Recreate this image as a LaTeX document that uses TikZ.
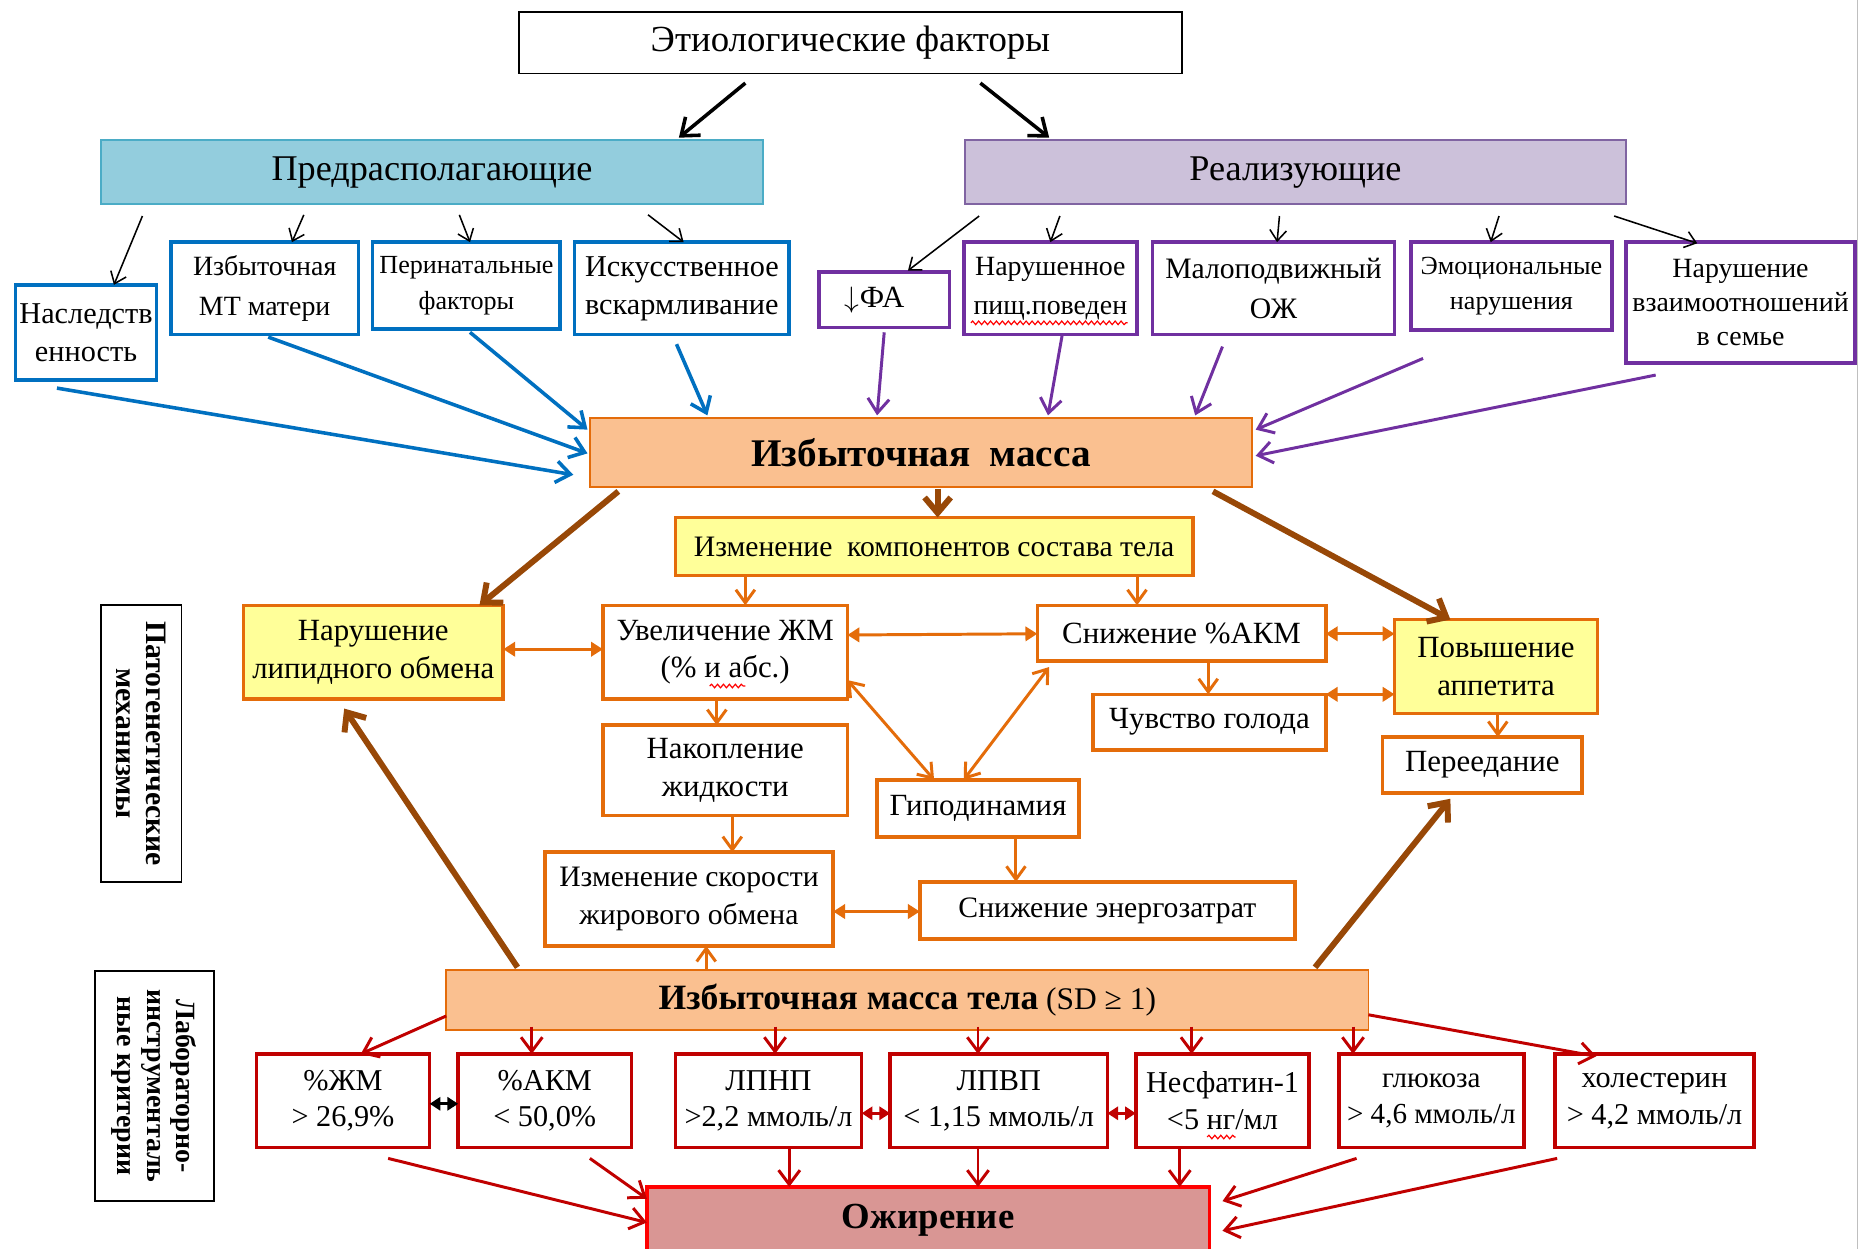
\documentclass[tikz,border=0pt]{standalone}
\usepackage{fontspec}
\setmainfont{Liberation Serif}
\usetikzlibrary{arrows.meta,decorations.pathmorphing}
\definecolor{cBlue}{HTML}{0070C0}
\definecolor{cPurple}{HTML}{7030A0}
\definecolor{cOrange}{HTML}{E46C0A}
\definecolor{cBrown}{HTML}{984807}
\definecolor{cRed}{HTML}{C00000}
\definecolor{cPeach}{HTML}{FAC090}
\definecolor{cYellow}{HTML}{FFFF99}
\definecolor{cLBlue}{HTML}{93CDDD}
\definecolor{cLBlueB}{HTML}{4BACC6}
\definecolor{cLav}{HTML}{CCC1DA}
\definecolor{cLavB}{HTML}{8064A2}
\definecolor{cPink}{HTML}{D99694}
\newcommand\fz[2]{\fontsize{#1}{#2}\selectfont}
\newcommand\lnk[5]{\draw[#1] ([shift={(#3)}]#2.center) -- ([shift={(#5)}]#4.center);}
\begin{document}
\begin{tikzpicture}[x=1pt,y=-1pt,
  box/.style={inner sep=0pt, align=center, font=\fz{26}{32}},
  bluebox/.style={box, draw=cBlue, line width=3, fill=white},
  purpbox/.style={box, draw=cPurple, line width=3, fill=white},
  orbox/.style={box, draw=cOrange, line width=3, fill=white},
  yelbox/.style={box, draw=cOrange, line width=3, fill=cYellow},
  redbox/.style={box, draw=cRed, line width=3, fill=white, font=\fz{25.5}{31}},
  sidebox/.style={box, draw=black, line width=1.5, rotate=-90},
  thinarr/.style={draw=black, line width=1.3, -{Straight Barb[length=9,width=14]}},
  blackarr/.style={draw=black, line width=3, -{Straight Barb[length=13,width=20]}},
  bluearr/.style={draw=cBlue, line width=3, -{Straight Barb[length=12,width=18]}},
  purparr/.style={draw=cPurple, line width=2.5, -{Straight Barb[length=12,width=18]}},
  brownarr/.style={draw=cBrown, line width=5, -{Straight Barb[length=13,width=22]}},
  orarr/.style={draw=cOrange, line width=2.5, -{Straight Barb[length=11,width=16]}},
  ordbl/.style={draw=cOrange, line width=2.5, {Straight Barb[length=11,width=16]}-{Straight Barb[length=11,width=16]}},
  ortri/.style={draw=cOrange, line width=2.5, {Triangle[length=10,width=12]}-{Triangle[length=10,width=12]}},
  redarr/.style={draw=cRed, line width=2.5, -{Straight Barb[length=12,width=18]}},
  redtri/.style={draw=cRed, line width=3, {Triangle[length=9,width=11]}-{Triangle[length=9,width=11]}},
  blktri/.style={draw=black, line width=2.5, {Triangle[length=9,width=11]}-{Triangle[length=9,width=11]}},
  wavy/.style={draw=red, line width=1, decorate, decoration={snake, amplitude=1.5, segment length=5}}
]
\useasboundingbox[fill=white] (0,0) rectangle (1568,1052);
\draw[gray!50, line width=1.5] (1565,0) -- (1565,1052);

% top
\node[box, draw=black, line width=1.5, minimum width=559, minimum height=52, font=\fz{31}{34}] (title) at (716.5,36) {Этиологические факторы};
\node[box, draw=cLBlueB, line width=1.5, fill=cLBlue, minimum width=558, minimum height=54, font=\fz{30.5}{34}] (pred) at (364,145) {Предрасполагающие};
\node[box, draw=cLavB, line width=1.5, fill=cLav, minimum width=557, minimum height=54, font=\fz{30.5}{34}] (real) at (1091.5,145) {Реализующие};

% blue row
\node[bluebox, minimum width=119, minimum height=80, font=\fz{25.5}{32}] (nasl) at (72.5,280) {Наследств\\енность};
\node[bluebox, minimum width=158, minimum height=78, font=\fz{23.5}{33}] (mt) at (223,243) {Избыточная\\МТ матери};
\node[bluebox, minimum width=158, minimum height=73, font=\fz{22}{30}] (peri) at (393,240.5) {Перинатальные\\факторы};
\node[bluebox, minimum width=181, minimum height=78, font=\fz{25.5}{32}] (isk) at (574.5,243) {Искусственное\\вскармливание};

% purple row
\node[purpbox, minimum width=110, minimum height=47] (fa) at (745,252.5) {{\fz{38}{38}$\downarrow$}ФА\hspace*{16pt}};
\node[purpbox, minimum width=146, minimum height=78, font=\fz{23.5}{33}] (pish) at (885,243) {Нарушенное\\пищ.поведен};
\node[purpbox, minimum width=204, minimum height=78, font=\fz{25}{33}] (oj) at (1073,243) {Малоподвижный\\ОЖ};
\node[purpbox, minimum width=169, minimum height=74, font=\fz{22}{30}] (emo) at (1273.5,241) {Эмоциональные\\нарушения};
\node[purpbox, minimum width=193, minimum height=102, font=\fz{23.5}{28.5}] (sem) at (1466.5,255) {Нарушение\\взаимоотношений\\в семье};

% central
\node[box, draw=cOrange, line width=1.5, fill=cPeach, minimum width=558, minimum height=58, font=\bfseries\fz{33}{36}] (izm) at (776,381) {Избыточная\hspace{8pt} масса};
\node[yelbox, minimum width=436, minimum height=49, font=\fz{25}{32}] (comp) at (787,460.5) {Изменение\hspace{6pt} компонентов состава тела};
\node[yelbox, minimum width=219, minimum height=79] (lip) at (314.5,549.5) {Нарушение\\липидного обмена};
\node[orbox, minimum width=206, minimum height=79] (uvel) at (611,549.5) {Увеличение ЖМ\\(\% и абс.)};
\node[orbox, minimum width=243, minimum height=47] (snakm) at (995.5,533.5) {Снижение \%АКМ};
\node[orbox, minimum width=196, minimum height=47] (chuv) at (1019,608.5) {Чувство голода};
\node[yelbox, minimum width=171, minimum height=79] (appet) at (1260.5,561.5) {Повышение\\аппетита};
\node[orbox, minimum width=206, minimum height=76] (nakop) at (611,649) {Накопление\\жидкости};
\node[orbox, minimum width=170, minimum height=48] (gipo) at (824,681) {Гиподинамия};
\node[orbox, minimum width=168, minimum height=47] (pere) at (1249,644.5) {Переедание};
\node[orbox, minimum width=243, minimum height=79, font=\fz{25}{32}] (skor) at (580.5,757.5) {Изменение скорости\\жирового обмена};
\node[orbox, minimum width=316, minimum height=48, font=\fz{25}{32}] (energ) at (933,767) {Снижение энергозатрат};
\node[box, draw=cOrange, line width=1.5, fill=cPeach, minimum width=777, minimum height=51] (imt) at (764.5,842.5) {{\bfseries\fz{30}{32}Избыточная масса тела} {\fz{26.5}{32}(SD ≥ 1)}};

% bottom row
\node[redbox, minimum width=146, minimum height=79] (zhm) at (289,927.5) {\%ЖМ\\> 26,9\%};
\node[redbox, minimum width=146, minimum height=79] (akm) at (459,927.5) {\%АКМ\\< 50,0\%};
\node[redbox, minimum width=157, minimum height=79] (lpnp) at (647.5,927.5) {ЛПНП\\>2,2 ммоль/л};
\node[redbox, minimum width=183, minimum height=79] (lpvp) at (841.5,927.5) {ЛПВП\\< 1,15 ммоль/л};
\node[redbox, minimum width=146, minimum height=79] (nesf) at (1030,927.5) {Несфатин-1\\<5 нг/мл};
\node[redbox, minimum width=156, minimum height=79, font=\fz{24.5}{31}] (glu) at (1206,927.5) {глюкоза\\> 4,6 ммоль/л};
\node[redbox, minimum width=168, minimum height=79] (hol) at (1394,927.5) {холестерин\\> 4,2 ммоль/л};
\node[box, draw=red, line width=3, fill=cPink, minimum width=474, minimum height=56, font=\bfseries\fz{31}{34}] (ozh) at (782,1028) {Ожирение};

% side labels
\node[sidebox, minimum width=233, minimum height=68, font=\bfseries\fz{25}{25}] (pat) at (119,626.5) {Патогенетические\\механизмы};
\node[sidebox, minimum width=194, minimum height=100, font=\bfseries\fz{23.5}{25}] (lab) at (130,915) {Лабораторно-\\инструменталь\\ные критерии};

% spell-check marks
\draw[wavy] (818,272) -- (950,272);
\draw[wavy] (598,578) -- (628,578);
\draw[wavy] (1017,958) -- (1041,958);

% black arrows
\lnk{blackarr}{title}{-88.5,34}{pred}{208,-29}
\lnk{blackarr}{title}{109.5,34}{real}{-207.5,-29}
\lnk{thinarr}{pred}{-244,37}{nasl}{23.5,-40}
\lnk{thinarr}{pred}{-108,36}{mt}{23,-39}
\lnk{thinarr}{pred}{23,36}{peri}{3,-36.5}
\lnk{thinarr}{pred}{182,36}{isk}{1.5,-39}
\lnk{thinarr}{real}{-266.5,37}{fa}{20,-24.5}
\lnk{thinarr}{real}{-198.5,37}{pish}{0,-39}
\lnk{thinarr}{real}{-13.5,37}{oj}{3,-39}
\lnk{thinarr}{real}{171.5,37}{emo}{-17.5,-37}
\lnk{thinarr}{real}{268.5,37}{sem}{-36.5,-50}

% blue / purple to izm
\lnk{bluearr}{nasl}{-24.5,47}{izm}{-293,19}
\lnk{bluearr}{mt}{3,41}{izm}{-281,1}
\lnk{bluearr}{peri}{3,39.5}{izm}{-281,-19}
\lnk{bluearr}{isk}{-4.5,47}{izm}{-180,-31}
\lnk{purparr}{fa}{0,27.5}{izm}{-37,-31}
\lnk{purparr}{pish}{10,39}{izm}{107,-31}
\lnk{purparr}{oj}{-43,49}{izm}{231,-31}
\lnk{purparr}{emo}{-74.5,61}{izm}{282,-19}
\lnk{purparr}{sem}{-71.5,61}{izm}{282,3}

% brown
\lnk{brownarr}{izm}{-255,33}{lip}{89.5,-39.5}
\lnk{brownarr}{izm}{14,31}{comp}{3,-24.5}
\lnk{brownarr}{izm}{246,33}{appet}{-38.5,-39.5}
\lnk{brownarr}{imt}{-328.5,-27.5}{lip}{-24.5,47.5}
\lnk{brownarr}{imt}{343.5,-27.5}{pere}{-27,28.5}

% orange
\lnk{orarr}{comp}{-159,25.5}{uvel}{17,-39.5}
\lnk{orarr}{comp}{171,25.5}{snakm}{-37.5,-23.5}
\lnk{ortri}{lip}{109.5,-2.5}{uvel}{-103,-2.5}
\lnk{ortri}{uvel}{103,-14.5}{snakm}{-121.5,0.5}
\lnk{ortri}{snakm}{121.5,0.5}{appet}{-85.5,-27.5}
\lnk{ortri}{chuv}{98,-23.5}{appet}{-85.5,23.5}
\lnk{orarr}{snakm}{22.5,23.5}{chuv}{-1,-23.5}
\lnk{orarr}{appet}{1.5,39.5}{pere}{13,-23.5}
\lnk{orarr}{uvel}{-7,39.5}{nakop}{-7,-38}
\lnk{ordbl}{uvel}{103,23.5}{gipo}{-37,-24}
\lnk{ordbl}{snakm}{-111.5,28.5}{gipo}{-12,-24}
\lnk{orarr}{nakop}{6,38}{skor}{36.5,-39.5}
\lnk{orarr}{gipo}{32,24}{energ}{-77,-24}
\lnk{ortri}{skor}{121.5,10.5}{energ}{-158,1}
\lnk{orarr}{imt}{-169.5,-25.5}{skor}{14.5,39.5}

% red
\lnk{redarr}{imt}{-388.5,13.5}{zhm}{15,-39.5}
\lnk{redarr}{imt}{-316.5,22.5}{akm}{-11,-39.5}
\lnk{redarr}{imt}{-111.5,22.5}{lpnp}{5.5,-39.5}
\lnk{redarr}{imt}{59.5,22.5}{lpvp}{-17.5,-39.5}
\lnk{redarr}{imt}{239.5,22.5}{nesf}{-26,-39.5}
\lnk{redarr}{imt}{375.5,22.5}{glu}{-66,-39.5}
\lnk{redarr}{imt}{388.5,12.5}{hol}{-49,-37.5}
\lnk{blktri}{zhm}{73,2.5}{akm}{-73,2.5}
\lnk{redtri}{lpnp}{78.5,10.5}{lpvp}{-91.5,10.5}
\lnk{redtri}{lpvp}{91.5,10.5}{nesf}{-73,10.5}
\lnk{redarr}{zhm}{38,48.5}{ozh}{-237,2}
\lnk{redarr}{akm}{38,48.5}{ozh}{-237,-18}
\lnk{redarr}{lpnp}{17.5,39.5}{ozh}{-117,-28}
\lnk{redarr}{lpvp}{-17.5,39.5}{ozh}{42,-28}
\lnk{redarr}{nesf}{-36,39.5}{ozh}{212,-28}
\lnk{redarr}{glu}{-63,48.5}{ozh}{248,-16}
\lnk{redarr}{hol}{-82,48.5}{ozh}{248,9}
\end{tikzpicture}
\end{document}
